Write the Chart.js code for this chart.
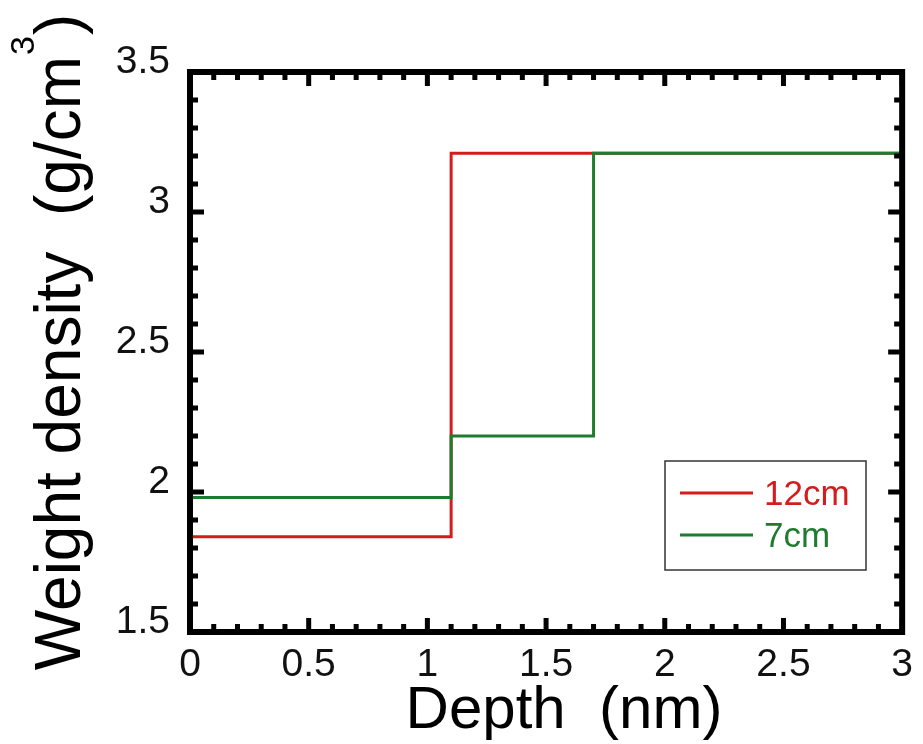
<!DOCTYPE html>
<html lang="en">
<head>
  <meta charset="UTF-8" />
  <title>Weight density vs depth</title>
  <script src="https://cdn.jsdelivr.net/npm/chart.js"></script>
  <style>
    html, body { margin: 0; padding: 0; background: #fff; }
    canvas { display: block; }
  </style>
</head>
<body>
  <canvas id="densityChart" width="923" height="744"></canvas>

  <script>
    // values
    const depth12cm = [0, 1.1, 3];
    const density12cm = [1.84, 3.21, 3.21];
    const depth7cm = [0, 1.1, 1.7, 3];
    const density7cm = [1.98, 2.2, 3.21, 3.21];
    const seriesLabels = ["12cm", "7cm"];
    const xTicks = [0, 0.5, 1, 1.5, 2, 2.5, 3];
    const yTicks = [1.5, 2, 2.5, 3, 3.5];

    const RED = "#d41c1c";
    const GREEN = "#1f7b2e";
    const FONT = "'Liberation Sans', Arial, sans-serif";

    const toPoints = (xs, ys) => xs.map((x, i) => ({ x: x, y: ys[i] }));

    // frame + inward ticks on all four sides
    const framePlugin = {
      id: "frame",
      afterDatasetsDraw(chart) {
        const { ctx, chartArea: a, scales } = chart;
        ctx.save();
        ctx.strokeStyle = "#000";
        ctx.lineWidth = 5;
        ctx.lineCap = "butt";
        const xs = scales.x, ys = scales.y;
        for (let i = 0; i <= 30; i++) {
          const px = xs.getPixelForValue(i / 10);
          const len = i % 5 === 0 ? 14 : 8;
          ctx.beginPath();
          ctx.moveTo(px, a.bottom); ctx.lineTo(px, a.bottom - len);
          ctx.moveTo(px, a.top); ctx.lineTo(px, a.top + len);
          ctx.stroke();
        }
        for (let i = 15; i <= 35; i++) {
          const py = ys.getPixelForValue(i / 10);
          const len = i % 5 === 0 ? 14 : 8;
          ctx.beginPath();
          ctx.moveTo(a.left, py); ctx.lineTo(a.left + len, py);
          ctx.moveTo(a.right, py); ctx.lineTo(a.right - len, py);
          ctx.stroke();
        }
        ctx.lineWidth = 6;
        ctx.strokeRect(a.left, a.top, a.right - a.left, a.bottom - a.top);
        ctx.restore();
      }
    };

    // axis titles and boxed legend
    const textPlugin = {
      id: "texts",
      afterDraw(chart) {
        const ctx = chart.ctx;
        ctx.save();
        ctx.fillStyle = "#000";

        ctx.font = "60px " + FONT;
        ctx.textAlign = "center";
        ctx.textBaseline = "alphabetic";
        ctx.fillText("Depth  (nm)", 564, 728);

        ctx.translate(80, 343);
        ctx.rotate(-Math.PI / 2);
        const main = "Weight density  (g/cm";
        ctx.font = "64px " + FONT;
        const wMain = ctx.measureText(main).width;
        ctx.font = "34px " + FONT;
        const wSup = ctx.measureText("3").width;
        ctx.font = "64px " + FONT;
        const wEnd = ctx.measureText(")").width;
        const x0 = -(wMain + wSup + wEnd) / 2;
        ctx.textAlign = "left";
        ctx.fillText(main, x0, 0);
        ctx.font = "34px " + FONT;
        ctx.fillText("3", x0 + wMain + 1, -46);
        ctx.font = "64px " + FONT;
        ctx.fillText(")", x0 + wMain + wSup + 2, 0);
        ctx.restore();

        // legend
        ctx.save();
        ctx.strokeStyle = "#333";
        ctx.lineWidth = 1.5;
        ctx.strokeRect(665, 461, 201, 109);
        const rows = [493, 535];
        chart.data.datasets.forEach((ds, i) => {
          const y = rows[i];
          ctx.strokeStyle = ds.borderColor;
          ctx.lineWidth = 3;
          ctx.beginPath();
          ctx.moveTo(680, y); ctx.lineTo(753, y);
          ctx.stroke();
          ctx.fillStyle = ds.borderColor;
          ctx.font = "35px " + FONT;
          ctx.textAlign = "left";
          ctx.textBaseline = "middle";
          ctx.fillText(ds.label, 764, y + 2);
        });
        ctx.restore();
      }
    };

    new Chart(document.getElementById("densityChart"), {
      type: "line",
      data: {
        datasets: [
          {
            label: seriesLabels[0],
            data: toPoints(depth12cm, density12cm),
            borderColor: RED,
            borderWidth: 3,
            stepped: "before",
            pointRadius: 0,
            order: 2
          },
          {
            label: seriesLabels[1],
            data: toPoints(depth7cm, density7cm),
            borderColor: GREEN,
            borderWidth: 3,
            stepped: "before",
            pointRadius: 0,
            order: 1
          }
        ]
      },
      options: {
        responsive: false,
        animation: false,
        devicePixelRatio: 1,
        layout: { padding: { top: 72, right: 14, left: 0, bottom: 0 } },
        plugins: {
          legend: { display: false },
          tooltip: { enabled: false }
        },
        scales: {
          x: {
            type: "linear",
            min: 0,
            max: 3,
            afterFit: s => { s.height = 112; },
            afterBuildTicks: s => { s.ticks = xTicks.map(v => ({ value: v })); },
            grid: { display: false, drawTicks: false },
            border: { display: false },
            ticks: {
              color: "#111",
              font: { family: FONT, size: 39 },
              padding: 10,
              maxRotation: 0,
              callback: v => String(v)
            }
          },
          y: {
            type: "linear",
            min: 1.5,
            max: 3.5,
            afterFit: s => { s.width = 190; },
            afterBuildTicks: s => { s.ticks = yTicks.map(v => ({ value: v })); },
            grid: { display: false, drawTicks: false },
            border: { display: false },
            ticks: {
              color: "#111",
              font: { family: FONT, size: 39 },
              padding: 20,
              labelOffset: -10,
              callback: v => String(v)
            }
          }
        }
      },
      plugins: [framePlugin, textPlugin]
    });
  </script>
</body>
</html>
